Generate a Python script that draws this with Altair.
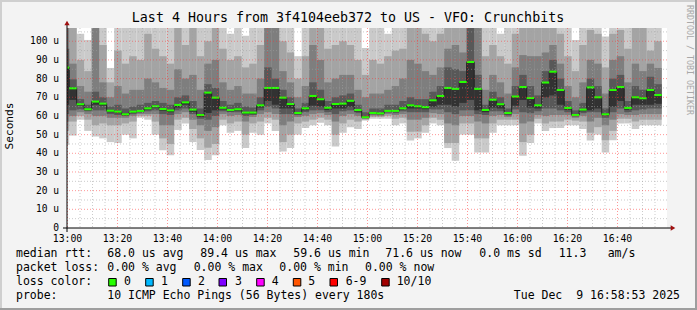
import altair as alt
import pandas as pd

# ---------------- data ----------------
FIRST_STEP_START = 0.68   # minutes after 13:00 where the first full 3-minute step starts
STEP_MIN = 3.0
X_DOMAIN = [-0.2, 239.8]

MEDIAN = [85.9, 74.8, 66.3, 63.6, 67.7, 66.6, 62.8, 62.3, 60.9, 62.3,
          62.7, 64.1, 65.2, 63.7, 63.0, 65.9, 67.3, 63.4, 60.5, 72.5,
          69.8, 64.4, 63.2, 63.6, 61.8, 61.8, 65.7, 75.0, 75.0, 69.8,
          66.4, 61.6, 64.1, 70.7, 68.9, 64.4, 66.4, 66.6, 68.1, 63.2,
          59.3, 61.6, 61.4, 62.7, 62.7, 64.1, 65.7, 65.2, 64.7, 68.4,
          70.7, 75.0, 74.5, 78.2, 88.9, 74.5, 63.2, 68.7, 66.3, 61.6,
          70.4, 75.5, 69.6, 65.7, 77.9, 83.7, 73.9, 64.3, 60.5, 63.4,
          75.3, 70.0, 60.9, 73.9, 75.5, 64.3, 70.0, 69.5, 73.9, 71.2]

# the ten sorted pings of every step (P1 lowest ... P10 highest), in microseconds
P1 = [44.5, 49.5, 58, 52, 49, 48, 46, 45.5, 50, 48,
      59, 58, 50, 41.7, 39, 52.5, 56, 46, 41.8, 36.4,
      39, 55, 51, 52, 42.8, 51, 50, 56, 52, 40.9,
      42.8, 50, 53.5, 55, 56.4, 55, 43.6, 51, 54, 53,
      57.5, 58.5, 58.5, 58.5, 55, 56, 46.8, 48, 51, 56,
      55, 42.8, 36, 50, 50, 40.4, 40.4, 51, 55, 55,
      55, 38.7, 45.5, 56, 52, 53.5, 53.5, 55, 55, 53,
      46.8, 50, 40.4, 47, 56, 56, 53, 55, 55, 55]
P2 = [52, 57, 60, 58, 55, 56, 55, 55, 56, 57,
      60, 60, 57, 48, 45, 58, 59, 53, 48, 43,
      45, 58, 56, 57, 50, 56, 57, 59, 58, 46,
      50, 56, 57, 58, 59, 58, 50, 56, 58, 57,
      58, 59.5, 59.5, 60, 58.5, 59, 51.6, 51.6, 55, 59,
      58, 45.5, 45.5, 56, 56, 48, 48, 56, 58, 58,
      58, 46, 50, 58.5, 56, 57, 57, 58, 57.5, 57,
      51, 54, 47, 52, 58.5, 58.5, 57, 58, 58, 58]
P3 = [57, 60, 62, 61, 60, 60, 59, 59, 59, 60,
      61, 61, 61, 55, 55, 61, 62, 58, 55, 52,
      54, 61, 60, 60.5, 57, 59.5, 61, 62, 61, 55,
      57, 59.5, 60, 61, 61.5, 60.5, 57, 60, 61, 60,
      58.5, 60.2, 60, 61, 60.5, 61, 58, 58, 59, 61.5,
      61, 56, 55, 60, 60, 57, 56, 60, 60.5, 59.5,
      61, 56, 57, 60.5, 60, 60.5, 60.5, 60.5, 59, 60,
      57, 59, 55, 58, 61, 60.5, 60.5, 61, 61, 61]
P4 = [61, 63, 63.5, 62.5, 63, 63, 61, 60.5, 60, 61,
      61.8, 62.5, 63, 61, 60.5, 63, 64, 61, 58.5, 58,
      60, 62.5, 62, 62, 60, 60.5, 63, 65, 64, 61,
      61, 60.5, 62, 63, 63, 62, 61, 62.5, 63, 61.5,
      58.8, 60.8, 60.6, 61.8, 61.5, 62.5, 62, 62, 62, 63.5,
      63.5, 62, 61, 63, 63, 61, 60.5, 62.5, 62.5, 60.3,
      63.5, 62, 61.5, 62.5, 64, 64, 63, 62, 59.7, 61.5,
      62, 62, 59, 62, 64, 62, 63, 63.5, 64, 64]
P5 = [66, 68.6, 65.5, 63, 66, 65.5, 62, 61.5, 60.3, 61.6,
      62.1, 63.4, 64.4, 62.8, 62, 64.5, 66, 62.2, 59.5, 61.6,
      63, 63.5, 62.5, 62.8, 61, 61, 64.5, 68, 66, 64,
      64, 61, 63, 65.5, 65, 63.2, 64, 64, 65, 62.3,
      59, 61.2, 61, 62.2, 62.1, 63.4, 64, 64, 63.6, 65,
      66, 66, 65, 67, 68.6, 63, 62, 64.5, 64, 60.9,
      65.5, 68.6, 64.5, 64, 70, 71, 66, 63.3, 60, 62.5,
      63, 64, 60.2, 65, 68, 63.3, 66, 66, 66, 66.5]
P6 = [86.2, 75.1, 66.6, 63.9, 68, 66.9, 63.1, 62.6, 61.2, 62.6,
      63.0, 64.4, 65.5, 64.0, 63.3, 66.2, 67.6, 63.7, 60.8, 72.8,
      70.1, 64.7, 63.5, 63.9, 62.1, 62.1, 66, 75.3, 75.3, 70.1,
      66.7, 61.9, 64.4, 71, 69.2, 64.7, 66.7, 66.9, 68.4, 63.5,
      59.6, 61.9, 61.7, 63, 63, 64.4, 66, 65.5, 65, 68.7,
      71, 75.3, 74.8, 78.5, 89.2, 74.8, 63.5, 69, 66.6, 61.9,
      70.7, 75.8, 69.9, 66, 78.2, 84, 74.2, 64.6, 60.8, 63.7,
      75.6, 70.3, 61.2, 74.2, 75.8, 64.6, 70.3, 69.8, 74.2, 71.5]
P7 = [96, 79.6, 69, 66, 73, 70, 65, 66, 64, 65,
      66, 67, 68, 67, 66, 70, 71, 68, 64, 77,
      75, 68, 66, 67, 65, 64.5, 70, 86, 80, 74,
      70, 64, 67, 78, 74, 68, 70, 71, 72, 66,
      62, 64, 64, 66, 66, 68, 70, 69, 69, 73,
      76, 86, 85, 84, 110, 82, 66, 73, 70, 64,
      76, 82, 76, 71, 84, 90, 80, 68, 63, 67,
      80, 76, 64, 80, 82, 68, 76, 74, 81, 77]
P8 = [110, 88, 76, 73, 110, 78, 70, 76, 72, 74,
      74, 80, 78, 75, 74, 85, 80, 82, 74, 88,
      90, 78, 74, 76, 72, 72, 80, 110, 110, 84,
      78, 70, 76, 98, 90, 78, 80, 82, 82, 74,
      70, 72, 72, 74, 76, 80, 90, 88, 84, 82,
      86, 96, 98, 94, 110, 110, 74, 82, 78, 72,
      86, 92.6, 92, 92, 94, 98, 88, 76, 70, 78,
      90, 88, 72, 90, 92, 78, 88, 84, 88, 85.7]
P9 = [110, 110, 90, 84, 110, 98, 78, 95, 88, 92,
      90, 104, 96, 92, 88, 110, 98, 108, 92, 100,
      110, 96, 90, 92, 86, 88, 98, 110, 110, 100,
      94, 80, 92, 110, 110, 96, 98, 100, 98, 90,
      82, 90, 88, 92, 95, 96, 110, 110, 104, 100,
      104, 110, 110, 110, 110, 110, 92, 98, 92, 88,
      104, 110, 110, 110, 110, 110, 104, 92, 84, 98,
      106, 104, 86, 104, 106, 96, 110, 110, 95, 100]
P10 = [110, 110, 104, 100.7, 110, 110, 85.7, 110, 110, 110,
       110, 110, 110, 110, 110, 110, 110, 110, 110, 110,
       110, 110, 104, 110, 103, 110, 110, 110, 110, 110,
       110, 92, 110, 110, 110, 110, 110, 110, 110, 110,
       96.4, 110, 110, 104, 110, 110, 110, 110, 110, 110,
       110, 110, 110, 110, 110, 110, 110, 110, 104, 110,
       110, 110, 110, 110, 110, 110, 110, 110, 100.7, 110,
       110, 110, 102.6, 110, 110, 110, 110, 110, 110, 110]

PINGS = [P1, P2, P3, P4, P5, P6, P7, P8, P9, P10]
SMOKE_COLORS = ["#cacaca", "#a4a4a4", "#7e7e7e", "#585858", "#323232"]

Y_MAX = 107.1
Y_MAJOR = [0, 10, 20, 30, 40, 50, 60, 70, 80, 90, 100]
Y_MINOR = [5, 15, 25, 35, 45, 55, 65, 75, 85, 95, 105]
X_MAJOR = [0, 20, 40, 60, 80, 100, 120, 140, 160, 180, 200, 220]
X_MINOR = [5, 10, 15, 25, 30, 35, 45, 50, 55, 65, 70, 75, 85, 90, 95,
           105, 110, 115, 125, 130, 135, 145, 150, 155, 165, 170, 175,
           185, 190, 195, 205, 210, 215, 225, 230, 235]
X_LABELS = ["13:00", "13:20", "13:40", "14:00", "14:20", "14:40",
            "15:00", "15:20", "15:40", "16:00", "16:20", "16:40"]

TITLE = "Last 4 Hours from 3f4104eeb372 to US - VFO: Crunchbits"

LEGEND_LINES = [
    (16, 254, "median rtt:"), (107.3, 254, "68.0 us avg"), (200.3, 254, "89.4 us max"),
    (293.3, 254, "59.6 us min"), (385.3, 254, "71.6 us now"), (479.3, 254, "0.0 ms sd"),
    (558.7, 254, "11.3"), (607.7, 254, "am/s"),
    (16, 268, "packet loss:"), (107.3, 268, "0.00 % avg"), (193.7, 268, "0.00 % max"),
    (279.3, 268, "0.00 % min"), (365, 268, "0.00 % now"),
    (16, 282, "loss color:"),
    (16, 296, "probe:"), (107.3, 296, "10 ICMP Echo Pings (56 Bytes) every 180s"),
]
LOSS_LABELS = ["0", "1", "2", "3", "4", "5", "6-9", "10/10"]
LOSS_COLORS = ["#26ff00", "#00b8ff", "#0059ff", "#7e00ff", "#ff00ff", "#ff5500", "#ff0000", "#a10000"]
LOSS_BOX_X = [108.7, 145.7, 182.7, 219.0, 256.7, 293.3, 330.0, 381.7]
LOSS_TEXT_X = [124, 161, 198, 235, 271.7, 308.3, 345.7, 396.7]
DATE_TEXT = "Tue Dec \u00a09 16:58:53 2025"

# ---------------- layout ----------------
W, H = 600, 200
PAD_L, PAD_T = 67, 28
TOTAL_W, TOTAL_H = 697, 310
MONO = "DejaVu Sans Mono"
GREEN_HALF = 0.55

n = len(MEDIAN)
starts = [X_DOMAIN[0]] + [FIRST_STEP_START + STEP_MIN * (k - 1) for k in range(1, n)]
ends = [FIRST_STEP_START + STEP_MIN * k for k in range(n)]

rows = []
for k in range(n):
    r = {"t0": starts[k], "t1": ends[k], "median": MEDIAN[k],
         "mlo": MEDIAN[k] - GREEN_HALF, "mhi": MEDIAN[k] + GREEN_HALF}
    for i in range(10):
        r[f"p{i+1}"] = PINGS[i][k]
    rows.append(r)
df = pd.DataFrame(rows)

xs = alt.Scale(domain=X_DOMAIN, nice=False, zero=False)
ys = alt.Scale(domain=[0, Y_MAX], nice=False, zero=False)

layers = []
for i in range(5):
    lo, hi = f"p{i+1}", f"p{10-i}"
    layers.append(
        alt.Chart(df).mark_rect(color=SMOKE_COLORS[i], clip=True).encode(
            x=alt.X("t0:Q", scale=xs, axis=None), x2="t1:Q",
            y=alt.Y(f"{lo}:Q", scale=ys, axis=None), y2=f"{hi}:Q"))

line_rows = [{"t": starts[k], "m": MEDIAN[k]} for k in range(n)] + [{"t": ends[-1], "m": MEDIAN[-1]}]
line_df = pd.DataFrame(line_rows)
layers.append(alt.Chart(line_df).mark_line(color="#202020", strokeWidth=1, interpolate="step-after", clip=True).encode(
    x=alt.X("t:Q", scale=xs, axis=None), y=alt.Y("m:Q", scale=ys, axis=None)))
layers.append(alt.Chart(df).mark_rect(color=LOSS_COLORS[0], clip=True).encode(
    x=alt.X("t0:Q", scale=xs, axis=None), x2="t1:Q",
    y=alt.Y("mlo:Q", scale=ys, axis=None), y2="mhi:Q"))

# grid (drawn on top, dotted)
gx_minor = pd.DataFrame({"v": X_MINOR})
gx_major = pd.DataFrame({"v": X_MAJOR})
gy_minor = pd.DataFrame({"v": Y_MINOR})
gy_major = pd.DataFrame({"v": Y_MAJOR[1:]})
GRID_MINOR = dict(color="#a0a0a0", strokeDash=[1, 2], strokeWidth=1, opacity=0.55)
GRID_MAJOR = dict(color="#ff3030", strokeDash=[1, 2], strokeWidth=1, opacity=0.5)
layers.append(alt.Chart(gx_minor).mark_rule(**GRID_MINOR).encode(x=alt.X("v:Q", scale=xs, axis=None)))
layers.append(alt.Chart(gy_minor).mark_rule(**GRID_MINOR).encode(y=alt.Y("v:Q", scale=ys, axis=None)))
layers.append(alt.Chart(gx_major).mark_rule(**GRID_MAJOR).encode(x=alt.X("v:Q", scale=xs, axis=None)))
layers.append(alt.Chart(gy_major).mark_rule(**GRID_MAJOR).encode(y=alt.Y("v:Q", scale=ys, axis=None)))

# axes lines and arrows
one = pd.DataFrame({"a": [0]})
layers.append(alt.Chart(one).mark_rule(color="#000000", strokeWidth=1).encode(
    x=alt.value(-4), x2=alt.value(W + 4), y=alt.value(H)))
layers.append(alt.Chart(one).mark_rule(color="#000000", strokeWidth=1).encode(
    x=alt.value(0), y=alt.value(H + 4), y2=alt.value(-3)))
layers.append(alt.Chart(one).mark_point(shape="triangle-right", filled=True, color="#a01010", size=28, opacity=1).encode(
    x=alt.value(W + 6), y=alt.value(H)))
layers.append(alt.Chart(one).mark_point(shape="triangle-up", filled=True, color="#a01010", size=28, opacity=1).encode(
    x=alt.value(0), y=alt.value(-5)))

# axis labels
xl = pd.DataFrame({"v": X_MAJOR, "lab": X_LABELS})
layers.append(alt.Chart(xl).mark_text(font=MONO, fontSize=9.8, baseline="top", align="center", color="#000000").encode(
    x=alt.X("v:Q", scale=xs, axis=None), y=alt.value(H + 5.5), text="lab:N"))
yl = pd.DataFrame({"v": Y_MAJOR, "lab": [("0" if v == 0 else f"{v}\u00a0u") for v in Y_MAJOR]})
layers.append(alt.Chart(yl).mark_text(font=MONO, fontSize=9.6, baseline="middle", align="right", color="#000000").encode(
    y=alt.Y("v:Q", scale=ys, axis=None), x=alt.value(-8), text="lab:N"))


def txt(x, y, s, size=11.5, color="#000000", align="left", angle=0, baseline="middle"):
    return alt.Chart(pd.DataFrame({"s": [s]})).mark_text(
        font=MONO, fontSize=size, color=color, align=align, baseline=baseline, angle=angle).encode(
        x=alt.value(x - PAD_L), y=alt.value(y - PAD_T), text="s:N")


layers.append(txt(348, 18, TITLE, size=13.3, align="center"))
layers.append(txt(10, 126, "Seconds", size=11.2, angle=270, align="center"))
layers.append(txt(689, 5, "RRDTOOL / TOBI OETIKER", size=8.3, color="#a8a8a8", angle=90, align="left"))
for (x, y, s) in LEGEND_LINES:
    layers.append(txt(x, y, s))
for lab, col, bx, tx in zip(LOSS_LABELS, LOSS_COLORS, LOSS_BOX_X, LOSS_TEXT_X):
    layers.append(alt.Chart(one).mark_rect(color=col, stroke="#000000", strokeWidth=1).encode(
        x=alt.value(bx - PAD_L), x2=alt.value(bx - PAD_L + 7.5),
        y=alt.value(278.5 - PAD_T), y2=alt.value(286 - PAD_T)))
    layers.append(txt(tx, 282, lab))
layers.append(txt(680, 296, DATE_TEXT, align="right"))

# border frame
layers.append(alt.Chart(one).mark_rule(color="#cfcfcf", strokeWidth=2).encode(
    x=alt.value(-PAD_L), x2=alt.value(TOTAL_W - PAD_L), y=alt.value(-PAD_T + 1)))
layers.append(alt.Chart(one).mark_rule(color="#cfcfcf", strokeWidth=2).encode(
    x=alt.value(-PAD_L + 1), y=alt.value(-PAD_T), y2=alt.value(TOTAL_H - PAD_T)))
layers.append(alt.Chart(one).mark_rule(color="#9e9e9e", strokeWidth=2).encode(
    x=alt.value(-PAD_L), x2=alt.value(TOTAL_W - PAD_L), y=alt.value(TOTAL_H - PAD_T - 1)))
layers.append(alt.Chart(one).mark_rule(color="#9e9e9e", strokeWidth=2).encode(
    x=alt.value(TOTAL_W - PAD_L - 1), y=alt.value(-PAD_T), y2=alt.value(TOTAL_H - PAD_T)))

chart = alt.layer(*layers).properties(
    width=W, height=H,
    background="#f3f3f3",
    padding={"left": PAD_L, "top": PAD_T, "right": TOTAL_W - PAD_L - W, "bottom": TOTAL_H - PAD_T - H},
    autosize=alt.AutoSizeParams(type="none"),
).configure_view(fill="#ffffff", stroke=None)

chart.save("out.html", embed_options={"renderer": "svg", "actions": False})
